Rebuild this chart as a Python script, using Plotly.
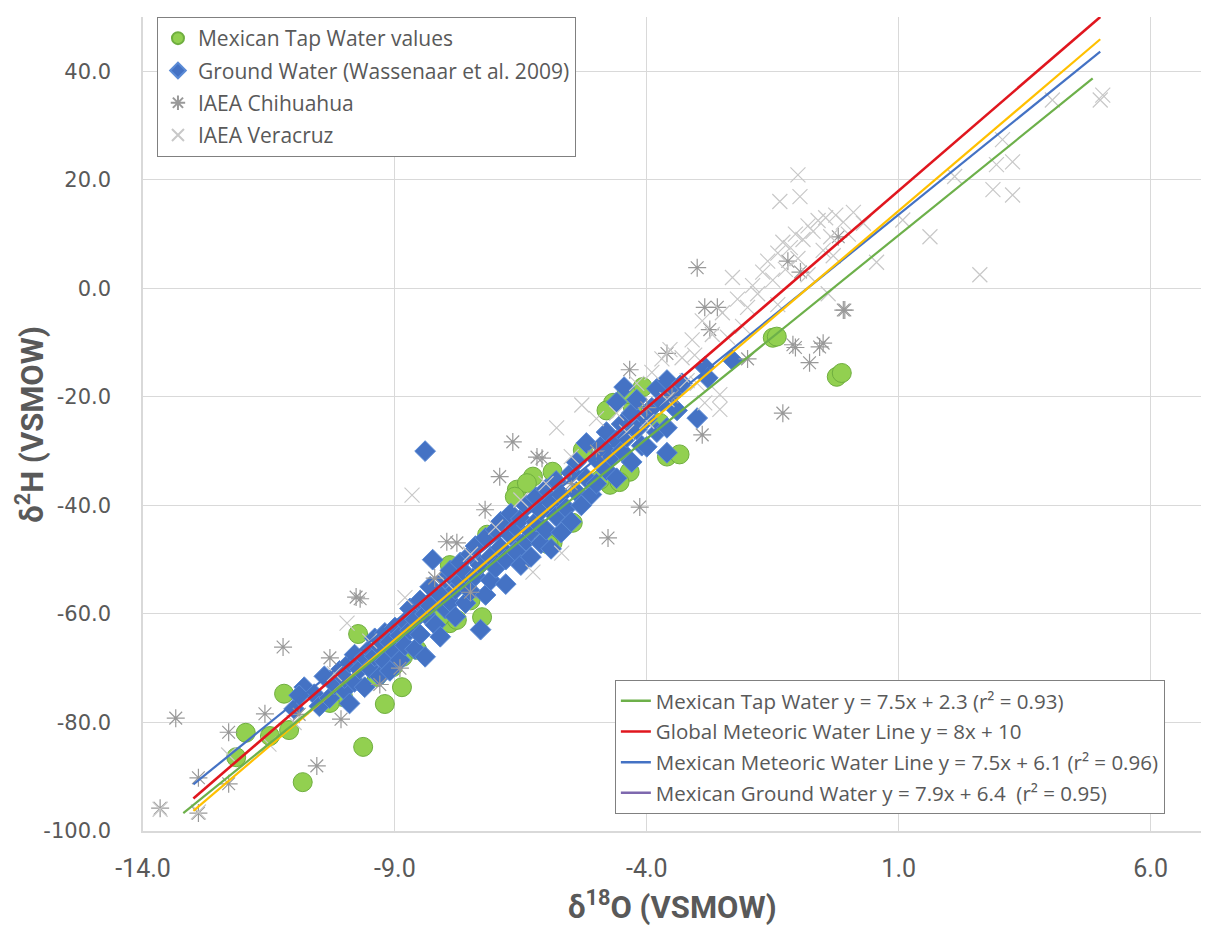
import plotly.graph_objects as go
import numpy as np

# ---------------- data ----------------
tap_x = [-12.15, -11.96, -11.48, -11.10, -11.20, -10.83, -9.63, -9.20, -8.86, -9.73,
         -10.03, -10.29, -9.36, -9.04, -8.84, -8.56, -8.15, -7.91, -7.77, -7.27,
         -8.11, -5.47, -5.87, -6.58, -6.26, -6.38, -5.87, -6.62, -4.67, -4.08,
         -4.34, -4.73, -4.54, -4.93, -5.27, -4.28, -3.74, -3.60, -3.35, -1.50,
         -1.42, -0.23, -0.13, -7.91, -7.17, -6.10, -5.95, -4.40, -4.80, -7.50]
tap_y = [-86.4, -81.9, -82.5, -81.4, -74.7, -91.0, -84.5, -76.6, -73.5, -63.7,
         -75.3, -76.4, -71.6, -69.8, -67.9, -66.6, -60.7, -61.7, -61.1, -60.6,
         -60.6, -43.2, -46.9, -37.1, -34.7, -35.9, -33.8, -38.4, -21.1, -18.2,
         -33.8, -36.2, -35.7, -35.3, -29.8, -21.8, -24.8, -31.0, -30.6, -9.1,
         -8.9, -16.3, -15.6, -51.0, -45.4, -44.5, -47.2, -19.5, -22.5, -57.5]

gw_x = [-10.8, -10.6, -10.5, -10.4, -10.3, -10.2, -10.1, -10.0, -10.0, -9.9,
        -9.8, -9.8, -9.7, -9.6, -9.6, -9.5, -9.5, -9.4, -9.4, -9.3,
        -9.3, -9.2, -9.2, -9.1, -9.1, -9.0, -9.0, -8.9, -8.9, -8.8,
        -8.8, -8.7, -8.7, -8.6, -8.6, -8.5, -8.5, -8.4, -8.4, -8.4,
        -8.3, -8.3, -8.25, -8.2, -8.1, -8.1, -8.0, -8.0, -7.9, -7.9,
        -7.8, -7.8, -7.7, -7.7, -7.6, -7.6, -7.5, -7.5, -7.4, -7.4,
        -7.3, -7.3, -7.2, -7.2, -7.1, -7.1, -7.0, -7.0, -6.9, -6.9,
        -6.8, -6.8, -6.7, -6.7, -6.6, -6.6, -6.5, -6.5, -6.4, -6.4,
        -6.3, -6.3, -6.2, -6.2, -6.1, -6.1, -6.0, -6.0, -5.9, -5.9,
        -5.8, -5.8, -5.7, -5.7, -5.6, -5.5, -5.5, -5.4, -5.4, -5.3,
        -5.2, -5.2, -5.1, -5.0, -5.0, -4.9, -4.8, -4.8, -4.7, -4.6,
        -4.6, -4.5, -4.5, -4.4, -4.3, -4.3, -4.2, -4.2, -4.1, -4.0,
        -4.0, -3.9, -3.8, -3.8, -3.7, -3.6, -3.6, -3.6, -3.5, -3.4,
        -3.3, -3.0, -2.85, -2.79, -2.3, -4.45, -4.6, -11.0, -10.9, -9.9]
gw_y = [-73.5, -74.8, -77.0, -71.5, -75.5, -73.0, -70.5, -74.0, -71.8, -69.0,
        -72.5, -67.5, -70.2, -68.0, -73.5, -66.5, -70.0, -67.8, -64.5, -71.5,
        -66.0, -68.8, -63.5, -65.2, -70.5, -62.5, -67.0, -64.0, -68.5, -61.5,
        -65.8, -63.0, -59.0, -66.5, -61.0, -57.5, -63.8, -60.0, -67.9, -30.0,
        -58.5, -55.0, -50.0, -62.0, -56.5, -64.2, -53.5, -59.0, -57.8, -52.0,
        -55.5, -60.5, -50.5, -54.0, -58.0, -52.5, -49.0, -55.8, -53.0, -47.5,
        -62.9, -51.0, -56.5, -46.0, -49.5, -53.8, -44.5, -51.5, -47.8, -43.0,
        -50.0, -54.5, -45.5, -41.5, -48.5, -44.0, -51.0, -42.5, -46.5, -40.0,
        -44.8, -49.5, -38.5, -43.0, -47.0, -41.0, -37.0, -44.5, -39.5, -48.0,
        -42.0, -35.5, -45.0, -38.0, -40.5, -34.0, -43.0, -37.5, -32.0, -40.0,
        -35.0, -28.5, -38.0, -31.5, -36.0, -29.0, -33.5, -26.5, -31.0, -28.0,
        -35.0, -25.0, -30.0, -27.5, -23.0, -32.0, -26.0, -20.5, -29.0, -24.0,
        -29.2, -22.0, -18.5, -26.5, -21.0, -16.9, -25.7, -30.3, -19.5, -22.5,
        -17.5, -23.9, -14.5, -16.5, -13.2, -18.2, -21.0, -77.5, -75.0, -76.5]

chi_x = [-13.66, -13.35, -12.30, -12.90, -12.90, -12.30, -11.58, -11.22, -10.55, -10.07,
         -10.29, -9.77, -9.69, -8.21, -7.97, -7.77, -7.21, -6.92, -6.66, -6.18,
         -6.08, -4.34, -4.14, -4.77, -2.85, -2.60, -0.07, -0.57, -0.50, -0.77,
         -1.30, -2.90, -3.60, -2.75, -0.10, -3.00, -0.95, -8.90, -9.30, -7.50,
         -5.50, -5.00, -4.00, -3.50, -1.10, -1.05, -2.00, -0.20, -1.20, -10.90]
chi_y = [-95.8, -79.2, -81.8, -90.2, -96.7, -91.3, -78.4, -66.1, -88.0, -79.4,
         -68.1, -56.9, -57.2, -53.4, -46.7, -46.9, -40.8, -34.7, -28.3, -31.1,
         -31.3, -15.0, -40.3, -46.0, -3.5, -3.5, -4.0, -10.8, -10.1, -13.7,
         -23.0, -27.0, -12.0, -7.6, -4.0, 3.8, 3.0, -70.0, -73.0, -56.0,
         -36.0, -30.0, -22.0, -20.0, -10.4, -10.9, -13.0, 9.5, 5.0, -78.5]

ver_x = [-3.9, -3.7, -3.54, -3.3, -3.1, -3.05, -2.9, -2.7, -2.5, -2.3,
         -2.2, -2.0, -1.9, -1.8, -1.7, -1.6, -1.5, -1.4, -1.3, -1.25,
         -1.15, -1.05, -1.0, -0.9, -0.8, -0.7, -0.6, -0.5, -0.45, -0.35,
         -0.25, -0.1, 0.0, 0.1, 0.3, 0.56, -0.3, -0.8, -1.0, -1.36,
         -0.96, 1.08, 1.62, 2.11, 2.87, 2.94, 3.06, 3.26, 3.26, 2.61,
         4.05, 5.0, 5.05, -2.55, -2.55, -2.85, -3.2, -4.2, -4.6, -5.0,
         -5.29, -5.79, -5.5, -6.0, -6.5, -7.0, -7.5, -8.0, -8.66, -8.8,
         -9.5, -9.95, -10.2, -11.0, -11.5, -12.3, -13.66, -12.9, -5.69, -6.26,
         -2.1, -2.4, -1.4, -0.4, -4.0, -3.6, -4.4, -3.0]
ver_y = [-15.5, -13.0, -11.3, -12.8, -9.5, -12.3, -6.0, -8.5, -4.5, 2.0,
         -2.0, -3.5, 0.5, -1.0, 3.0, 5.0, 1.5, 6.5, 8.5, 3.5,
         7.5, 10.0, 5.5, 9.0, 11.5, 10.5, 12.5, 7.0, 13.0, 9.5,
         13.5, 12.2, 10.0, 14.0, 12.0, 4.8, 6.0, 2.5, 20.9, 16.0,
         16.9, 12.6, 9.5, 20.6, 18.2, 22.8, 27.4, 23.3, 17.2, 2.5,
         34.7, 34.7, 35.6, -19.6, -22.3, -21.1, -17.0, -17.5, -23.0, -24.0,
         -21.5, -25.7, -31.0, -36.0, -39.0, -44.0, -49.0, -54.0, -38.1, -57.0,
         -65.0, -61.7, -71.0, -80.0, -84.0, -86.0, -96.0, -96.5, -48.8, -52.3,
         -7.0, -9.0, -3.0, -1.0, -24.5, -20.5, -26.5, -17.5]

# trend lines: name, slope, intercept, x start, x end
line_names = ["Mexican Tap Water y = 7.5x + 2.3 (r² = 0.93)",
              "Global Meteoric Water Line y = 8x + 10",
              "Mexican Meteoric Water Line y = 7.5x + 6.1 (r² = 0.96)",
              "Mexican Ground Water y = 7.9x + 6.4  (r² = 0.95)"]
line_slopes = [7.5, 8.0, 7.5, 7.9]
line_intercepts = [2.3, 10.0, 6.1, 6.4]
line_x0 = [-13.2, -13.0, -13.0, -13.0]
line_x1 = [4.85, 5.0, 5.0, 5.0]
line_colors = ["#6DB04A", "#E0161E", "#4472C4", "#FFC000"]
legend_line_colors = ["#6DB04A", "#E0161E", "#4472C4", "#7E68AE"]

x_ticks = [-14, -9, -4, 1, 6]
x_tick_labels = ["-14.0", "-9.0", "-4.0", "1.0", "6.0"]
y_ticks = [-100, -80, -60, -40, -20, 0, 20, 40]
y_tick_labels = ["-100.0", "-80.0", "-60.0", "-40.0", "-20.0", "0.0", "20.0", "40.0"]

# ---------------- figure ----------------
fig = go.Figure()

fig.add_trace(go.Scatter(
    x=tap_x, y=tap_y, mode="markers", name="Mexican Tap Water values",
    marker=dict(symbol="circle", size=19, color="#92D050",
                line=dict(color="#6FAE3F", width=1)),
    legend="legend", legendgroup="a"))
fig.add_trace(go.Scatter(
    x=gw_x, y=gw_y, mode="markers", name="Ground Water (Wassenaar et al. 2009)",
    marker=dict(symbol="diamond", size=16, color="#4472C4",
                line=dict(color="#5B8BD6", width=1)),
    legend="legend", legendgroup="b"))
fig.add_trace(go.Scatter(
    x=chi_x, y=chi_y, mode="markers", name="IAEA Chihuahua",
    marker=dict(symbol="asterisk-open", size=15, color="#999999",
                line=dict(color="#999999", width=1.2)),
    legend="legend", legendgroup="c"))
fig.add_trace(go.Scatter(
    x=ver_x, y=ver_y, mode="markers", name="IAEA Veracruz",
    marker=dict(symbol="x-thin-open", size=15, color="#C8C8C8",
                line=dict(color="#C8C8C8", width=1.2)),
    legend="legend", legendgroup="d"))

draw_order = [2, 3, 0, 1]
for i in draw_order:
    xs = np.array([line_x0[i], line_x1[i]])
    ys = line_slopes[i] * xs + line_intercepts[i]
    fig.add_trace(go.Scatter(
        x=xs, y=ys, mode="lines", name=line_names[i],
        line=dict(color=line_colors[i], width=2.6 if i == 1 else 2.2),
        showlegend=False, hoverinfo="skip"))

for i in range(4):
    fig.add_trace(go.Scatter(
        x=[None], y=[None], mode="lines", name=line_names[i],
        line=dict(color=legend_line_colors[i], width=2.5),
        legend="legend2", legendgroup="l%d" % i, showlegend=True))

tick_font_y = dict(family="DejaVu Sans", size=21, color="#595959")
tick_font_x = dict(family="Liberation Sans Narrow, Roboto, sans-serif", size=25, color="#595959")

fig.update_layout(
    width=1208, height=930,
    margin=dict(l=143, r=7, t=17, b=99),
    paper_bgcolor="white", plot_bgcolor="white",
    showlegend=True,
    xaxis=dict(range=[-14, 7], tickvals=x_ticks, ticktext=x_tick_labels,
               showgrid=True, gridcolor="#D9D9D9", gridwidth=1,
               zeroline=False, showline=True, linecolor="#D9D9D9", linewidth=1.5,
               ticks="outside", ticklen=14, tickcolor="rgba(0,0,0,0)",
               tickfont=tick_font_x),
    yaxis=dict(range=[-100, 50], tickvals=y_ticks, ticktext=y_tick_labels,
               showgrid=True, gridcolor="#D9D9D9", gridwidth=1,
               zeroline=False, showline=True, linecolor="#D9D9D9", linewidth=1.5,
               ticks="outside", ticklen=26, tickcolor="rgba(0,0,0,0)",
               tickfont=tick_font_y),
    legend=dict(x=0.0132, y=1.0, xanchor="left", yanchor="top",
                bgcolor="white", bordercolor="#808080", borderwidth=1,
                font=dict(family="Open Sans", size=21, color="#595959"),
                itemsizing="constant", tracegroupgap=2),
    legend2=dict(x=0.446, y=0.1855, xanchor="left", yanchor="top",
                 bgcolor="white", bordercolor="#808080", borderwidth=1,
                 font=dict(family="Open Sans", size=20.5, color="#595959"),
                 itemwidth=30, tracegroupgap=1),
    annotations=[
        dict(text="δ<sup>18</sup>O (VSMOW)", xref="paper", yref="paper",
             x=0.5, y=-0.091, xanchor="center", yanchor="middle", showarrow=False,
             font=dict(family="Liberation Sans Narrow, Roboto, sans-serif", size=31,
                       color="#595959", weight="bold")),
        dict(text="δ<sup>2</sup>H (VSMOW)", xref="paper", yref="paper",
             x=-0.107, y=0.5, xanchor="center", yanchor="middle", showarrow=False,
             textangle=-90,
             font=dict(family="Liberation Sans Narrow, Roboto, sans-serif", size=31,
                       color="#595959", weight="bold")),
    ],
)

fig.write_html("out.html")
